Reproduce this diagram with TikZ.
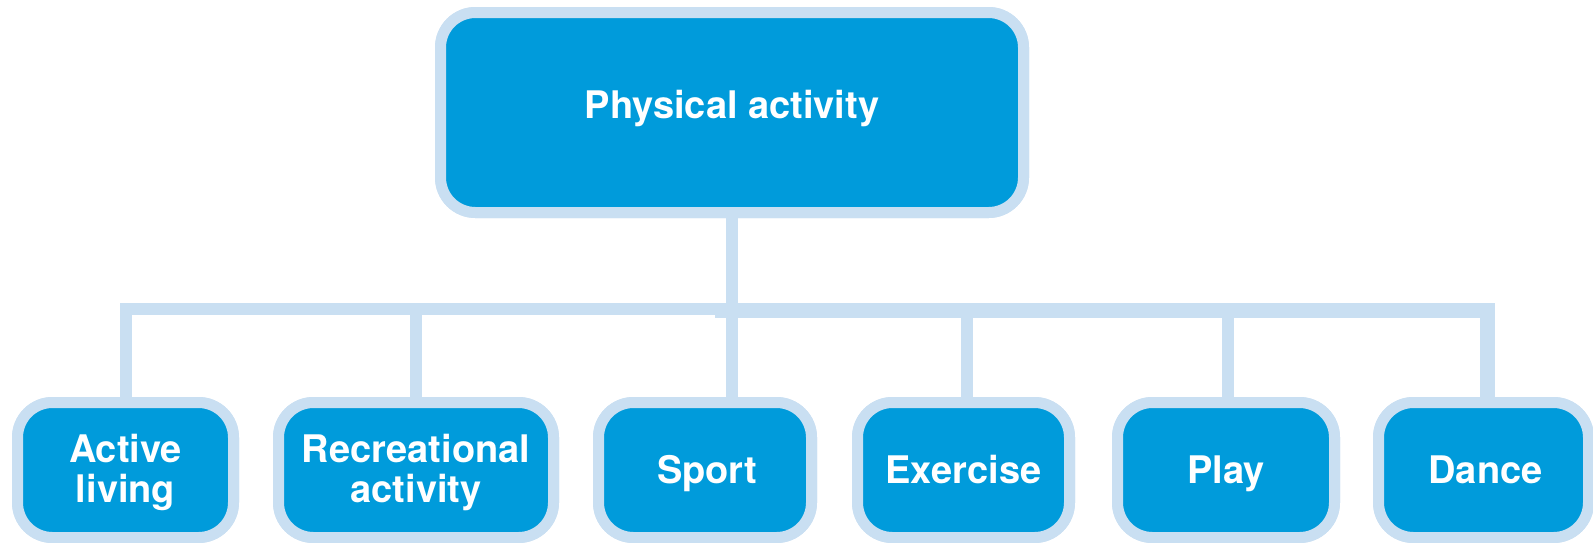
\documentclass[tikz,border=0pt]{standalone}
\usepackage{fontspec}
\setmainfont{TeX Gyre Heros}
\definecolor{boxblue}{HTML}{009BDB}
\definecolor{rimblue}{HTML}{C9DFF2}
\begin{document}
\begin{tikzpicture}[x=1pt,y=-1pt,
  box/.style={rectangle, rounded corners=35pt, fill=boxblue, draw=rimblue, line width=11pt, inner sep=0pt},
  topbox/.style={box, minimum width=583pt, minimum height=200pt},
  kidbox/.style={box, minimum height=135pt},
  lbl/.style={text=white, font=\fontsize{38}{40}\selectfont\bfseries, align=center, inner sep=0pt},
  onelbl/.style={lbl, text height=28pt, text depth=8pt},
  conn/.style={draw=rimblue, line width=12pt, line join=miter, line cap=butt}]
\useasboundingbox (0,0) rectangle (1593,542);
\coordinate (busL) at (125,309);
\node[topbox] (pa) at (732,112.5) {};
\node[kidbox, minimum width=216pt] (active) at (125.5,470) {};
\node[kidbox, minimum width=275pt] (rec) at (416,470) {};
\node[kidbox, minimum width=213pt] (sport) at (705,470) {};
\node[kidbox, minimum width=212pt] (ex) at (963.5,470) {};
\node[kidbox, minimum width=217pt] (play) at (1226,470) {};
\node[kidbox, minimum width=210pt] (dance) at (1483.5,470) {};
% connectors
\draw[conn] (pa.south) -- (pa.south |- sport.north);
\draw[conn] (active.north) -- (active.north |- busL) -- ([xshift=-17pt]pa.south |- busL);
\draw[conn, line width=15pt] ([xshift=-17pt,yshift=-1.5pt]pa.south |- busL) -- ([xshift=4pt,yshift=-1.5pt]dance.north |- busL) -- ([xshift=4pt]dance.north);
\draw[conn] (rec.north) -- (rec.north |- busL);
\draw[conn] ([xshift=3pt]ex.north) -- ([xshift=3pt]ex.north |- busL);
\draw[conn] ([xshift=2pt]play.north) -- ([xshift=2pt]play.north |- busL);
% boxes again, over the connector ends
\node[topbox] (pa2) at (pa.center) {};
\node[kidbox, minimum width=216pt] (active2) at (active.center) {};
\node[kidbox, minimum width=275pt] (rec2) at (rec.center) {};
\node[kidbox, minimum width=213pt] (sport2) at (sport.center) {};
\node[kidbox, minimum width=212pt] (ex2) at (ex.center) {};
\node[kidbox, minimum width=217pt] (play2) at (play.center) {};
\node[kidbox, minimum width=210pt] (dance2) at (dance.center) {};
% labels
\node[onelbl] (tpa) at ([yshift=4pt]pa.center) {Physical activity};
\node[lbl] (tactive) at ([yshift=-2pt]active.center) {Active\\living};
\node[lbl] (trec) at ([yshift=-2pt]rec.center) {Recreational\\activity};
\node[onelbl] (tsport) at ([xshift=2pt,yshift=-3pt]sport.center) {Sport};
\node[onelbl] (tex) at ([yshift=-3pt]ex.center) {Exercise};
\node[onelbl] (tplay) at ([yshift=-3pt]play.center) {Play};
\node[onelbl] (tdance) at ([xshift=2pt,yshift=-3pt]dance.center) {Dance};
\end{tikzpicture}
\end{document}
